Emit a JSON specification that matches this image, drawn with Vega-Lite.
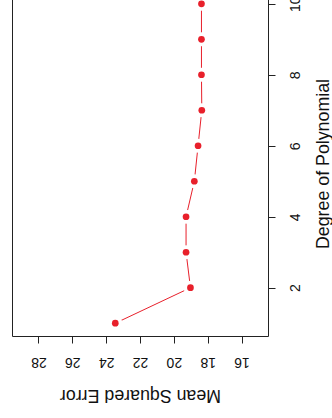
{
  "$schema": "https://vega.github.io/schema/vega-lite/v6.json",
  "autosize": "none",
  "width": 256,
  "height": 345,
  "padding": {"left": 12, "top": -9, "right": 64, "bottom": 82},
  "background": "white",
  "config": {
    "view": {"stroke": "#222222", "strokeWidth": 1},
    "font": "Liberation Sans",
    "axis": {
      "grid": false,
      "domain": false,
      "tickColor": "#222222",
      "tickSize": 7,
      "labelFont": "Liberation Sans",
      "labelFontSize": 14,
      "labelColor": "#111111",
      "titleFont": "Liberation Sans",
      "titleFontSize": 17.8,
      "titleFontWeight": "normal",
      "titleColor": "#111111"
    }
  },
  "data": {
    "values": [
      {"degree": 1, "mse": 23.46},
      {"degree": 2, "mse": 19.02},
      {"degree": 3, "mse": 19.28},
      {"degree": 4, "mse": 19.28},
      {"degree": 5, "mse": 18.79},
      {"degree": 6, "mse": 18.57},
      {"degree": 7, "mse": 18.35},
      {"degree": 8, "mse": 18.37},
      {"degree": 9, "mse": 18.37},
      {"degree": 10, "mse": 18.37}
    ]
  },
  "encoding": {
    "x": {
      "field": "mse",
      "type": "quantitative",
      "scale": {"domain": [14.44, 29.56], "reverse": true, "nice": false, "zero": false},
      "axis": {
        "orient": "bottom",
        "values": [16, 18, 20, 22, 24, 26, 28],
        "labelAngle": 180,
        "labelAlign": "center",
        "labelBaseline": "middle",
        "labelPadding": 18,
        "title": "Mean Squared Error",
        "titleAngle": 180,
        "titleAlign": "center",
        "titleBaseline": "middle",
        "titleX": 128,
        "titleY": 58
      }
    },
    "y": {
      "field": "degree",
      "type": "quantitative",
      "scale": {"domain": [0.64, 10.36], "nice": false, "zero": false},
      "axis": {
        "orient": "right",
        "values": [2, 4, 6, 8, 10],
        "labelAngle": -90,
        "labelAlign": "center",
        "labelBaseline": "middle",
        "labelPadding": 20,
        "title": "Degree of Polynomial",
        "titleAngle": -90,
        "titleAlign": "center",
        "titleBaseline": "middle",
        "titleX": 55,
        "titleY": 172.5
      }
    }
  },
  "layer": [
    {"mark": {"type": "line", "color": "#E8202B", "strokeWidth": 1}, "encoding": {"order": {"field": "degree"}}},
    {"mark": {"type": "circle", "color": "white", "opacity": 1, "size": 200}},
    {"mark": {"type": "circle", "color": "#E8202B", "opacity": 1, "size": 45}}
  ]
}
